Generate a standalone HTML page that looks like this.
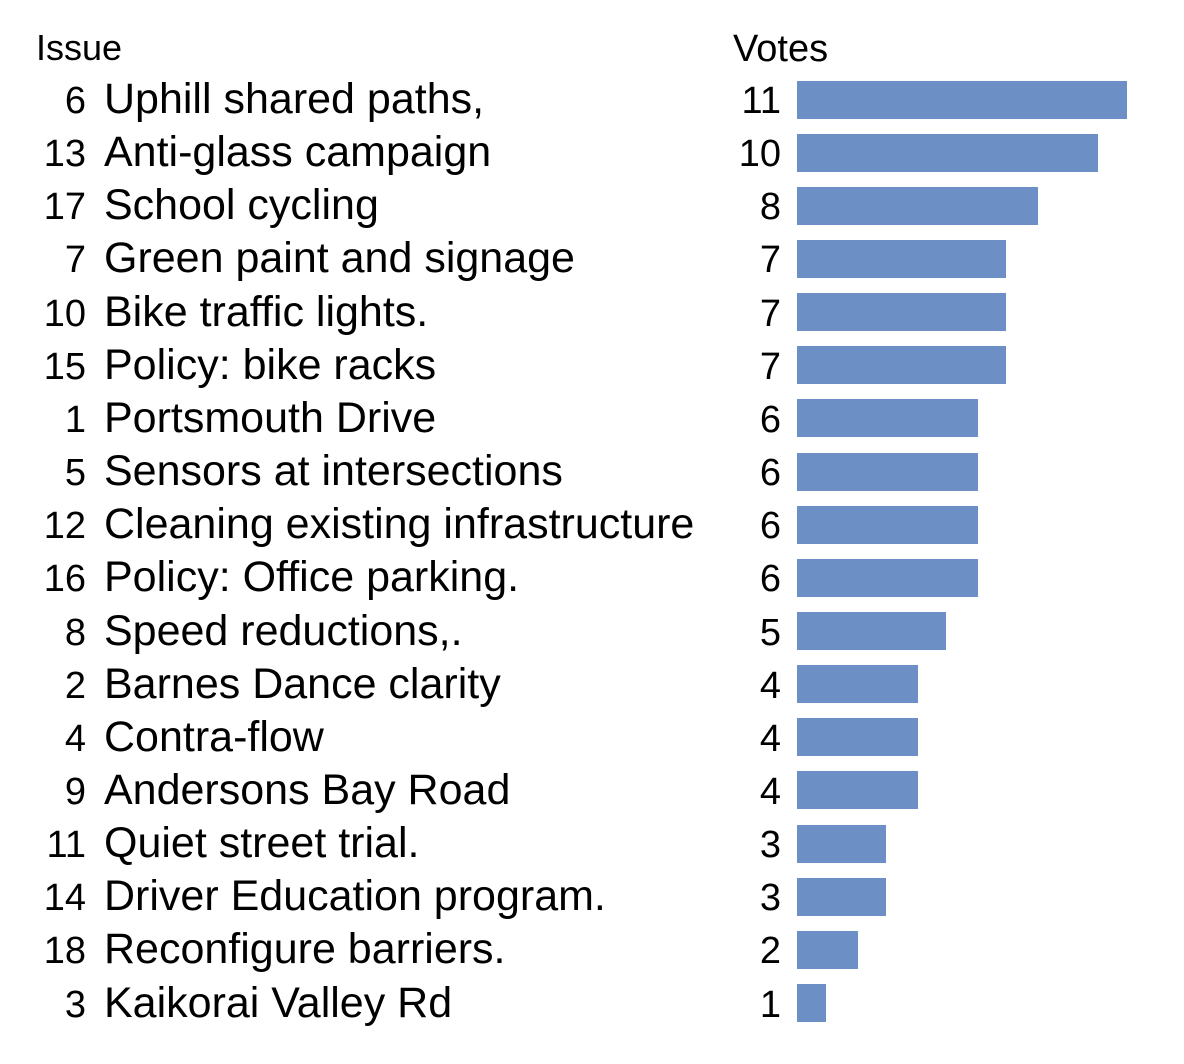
<!DOCTYPE html>
<html><head><style>
body{margin:0;width:1184px;height:1064px;background:#fff;position:relative;overflow:hidden;font-family:"Liberation Sans",sans-serif;color:#000}
.t{position:absolute;white-space:nowrap;line-height:1}
.bar{position:absolute;background:#6c8fc5;height:38px;left:797px}
</style></head><body>
<div class="t" style="left:36px;top:30px;font-size:36px">Issue</div>
<div class="t" style="left:733px;top:30px;font-size:38px">Votes</div>
<div id="rows"></div>
<script>
var d=[[6,"Uphill shared paths,",11,330],[13,"Anti-glass campaign",10,301],[17,"School cycling",8,241],[7,"Green paint and signage",7,209],[10,"Bike traffic lights.",7,209],[15,"Policy: bike racks",7,209],[1,"Portsmouth Drive",6,181],[5,"Sensors at intersections",6,181],[12,"Cleaning existing infrastructure",6,181],[16,"Policy: Office parking.",6,181],[8,"Speed reductions,.",5,149],[2,"Barnes Dance clarity",4,121],[4,"Contra-flow",4,121],[9,"Andersons Bay Road",4,121],[11,"Quiet street trial.",3,89],[14,"Driver Education program.",3,89],[18,"Reconfigure barriers.",2,61],[3,"Kaikorai Valley Rd",1,29]];
var h="";
d.forEach(function(r,i){var c=99+i*53.15;
h+='<div class="t" style="right:1098px;top:'+(c-17)+'px;font-size:38px;text-align:right">'+r[0]+'</div>';
h+='<div class="t" style="left:104px;top:'+(c-21)+'px;font-size:43px">'+r[1]+'</div>';
h+='<div class="t" style="right:403px;top:'+(c-17)+'px;font-size:38px;text-align:right">'+r[2]+'</div>';
h+='<div class="bar" style="top:'+(c-18.5)+'px;width:'+r[3]+'px"></div>';});
document.getElementById("rows").innerHTML=h;
</script>
</body></html>
